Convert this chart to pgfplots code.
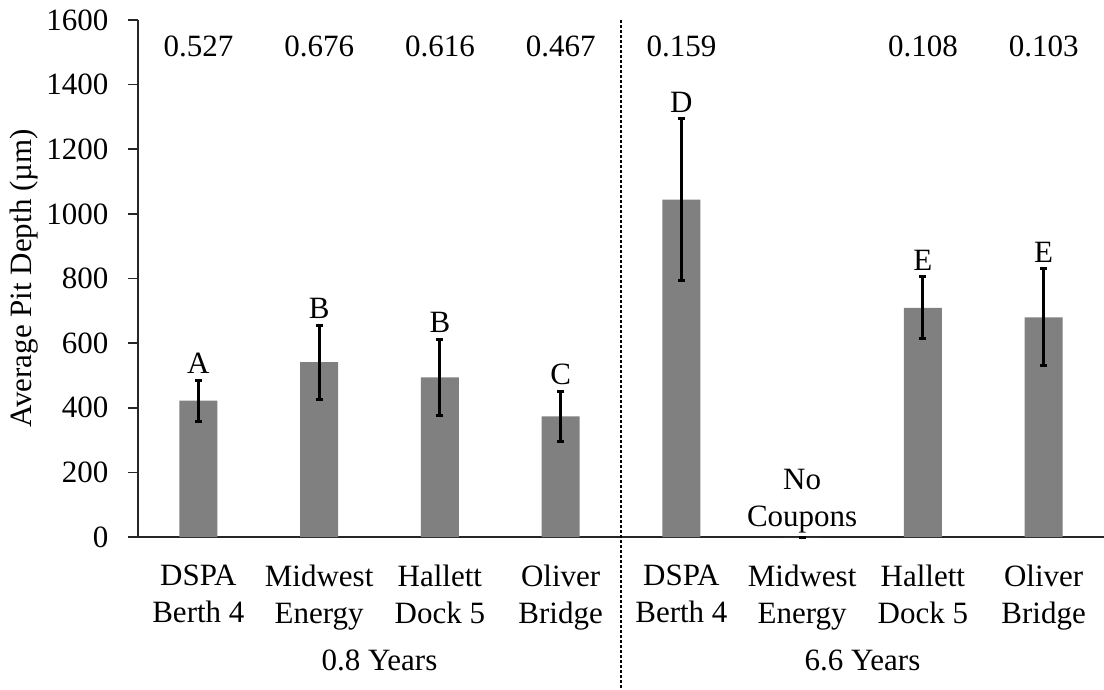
\documentclass[border=0pt]{standalone}
\usepackage{pgfplots}
\pgfplotsset{compat=1.18}
\usepackage{pgfplotstable}
\usepackage{fontspec}
\setmainfont{Liberation Serif}
\definecolor{barg}{RGB}{128,128,128}
\pgfplotstableread{
x y e
0 422 63
1 541 114
2 494 118
3 373 77
4 1044 250
5 0 0
6 709 96
7 680 150
}\bardata
\pgfplotstableread{
x top lab
0 485 A
1 655 B
2 612 B
3 450 C
4 1294 D
6 805 E
7 830 E
}\letters
\pgfplotstableread{
x y lab
0 1517 0.527
1 1517 0.676
2 1517 0.616
3 1517 0.467
4 1517 0.159
6 1517 0.108
7 1517 0.103
}\topnums
\begin{document}
\fontsize{15.5}{18.5}\selectfont
\begin{tikzpicture}[font=\fontsize{15.5}{18.5}\selectfont]
\begin{axis}[
  name=ax,
  scale only axis, width=483pt, height=258.5pt,
  xmin=-0.5, xmax=7.5, ymin=0, ymax=1600,
  axis x line=bottom, axis y line=left,
  axis line style={-, line width=0.8pt, black!85},
  ytick={0,200,...,1600},
  xtick={0,...,7},
  xticklabels={{DSPA\\Berth 4},{Midwest\\Energy},{Hallett\\Dock 5},{Oliver\\Bridge},{DSPA\\Berth 4},{Midwest\\Energy},{Hallett\\Dock 5},{Oliver\\Bridge}},
  xticklabel style={align=center, yshift=-3.5pt},
  yticklabel style={xshift=-4.5pt},
  x tick style={draw=none},
  y tick style={line width=0.8pt, black!85},
  tick align=outside, major tick length=5pt,
  /pgf/number format/assume math mode=true,
  /pgf/number format/set thousands separator={},
  every axis y label/.style={at={([xshift=-57pt]axis description cs:0,0.5)}, rotate=90, anchor=center},
  ylabel={Average Pit Depth (µm)},
  clip=false,
]
\addplot[ybar, bar width=19pt, fill=barg, draw=none,
  error bars/.cd, y dir=both, y explicit,
  error bar style={line width=1.5pt, black},
  error mark options={rotate=90, line width=1.5pt, mark size=1.8pt, black}]
  table[x=x, y=y, y error=e] {\bardata};
\addplot[only marks, mark=*, mark size=0pt, mark options={draw=none, fill=none},
  nodes near coords, point meta=explicit symbolic,
  every node near coord/.style={anchor=south, inner sep=3pt, font=\fontsize{15.5}{18.5}\selectfont}]
  table[x=x, y=top, meta=lab] {\letters};
\addplot[only marks, mark=*, mark size=0pt, mark options={draw=none, fill=none},
  nodes near coords, point meta=explicit symbolic,
  every node near coord/.style={anchor=center, inner sep=0pt, font=\fontsize{15.5}{18.5}\selectfont}]
  table[x=x, y=y, meta=lab] {\topnums};
\node[align=center] at (axis cs:5,110) {No\\Coupons};
\node at ([yshift=-61.5pt]axis cs:1.5,0) {0.8 Years};
\node at ([yshift=-61.5pt]axis cs:5.5,0) {6.6 Years};
\draw[line width=0.6pt, dash pattern=on 1.5pt off 1pt] (axis cs:3.5,1600) -- ([yshift=-76pt]axis cs:3.5,0);
\end{axis}
\pgfresetboundingbox
\path[use as bounding box] ([xshift=-69pt, yshift=-76pt]ax.south west) rectangle ([yshift=10pt]ax.north east);
\end{tikzpicture}
\end{document}
